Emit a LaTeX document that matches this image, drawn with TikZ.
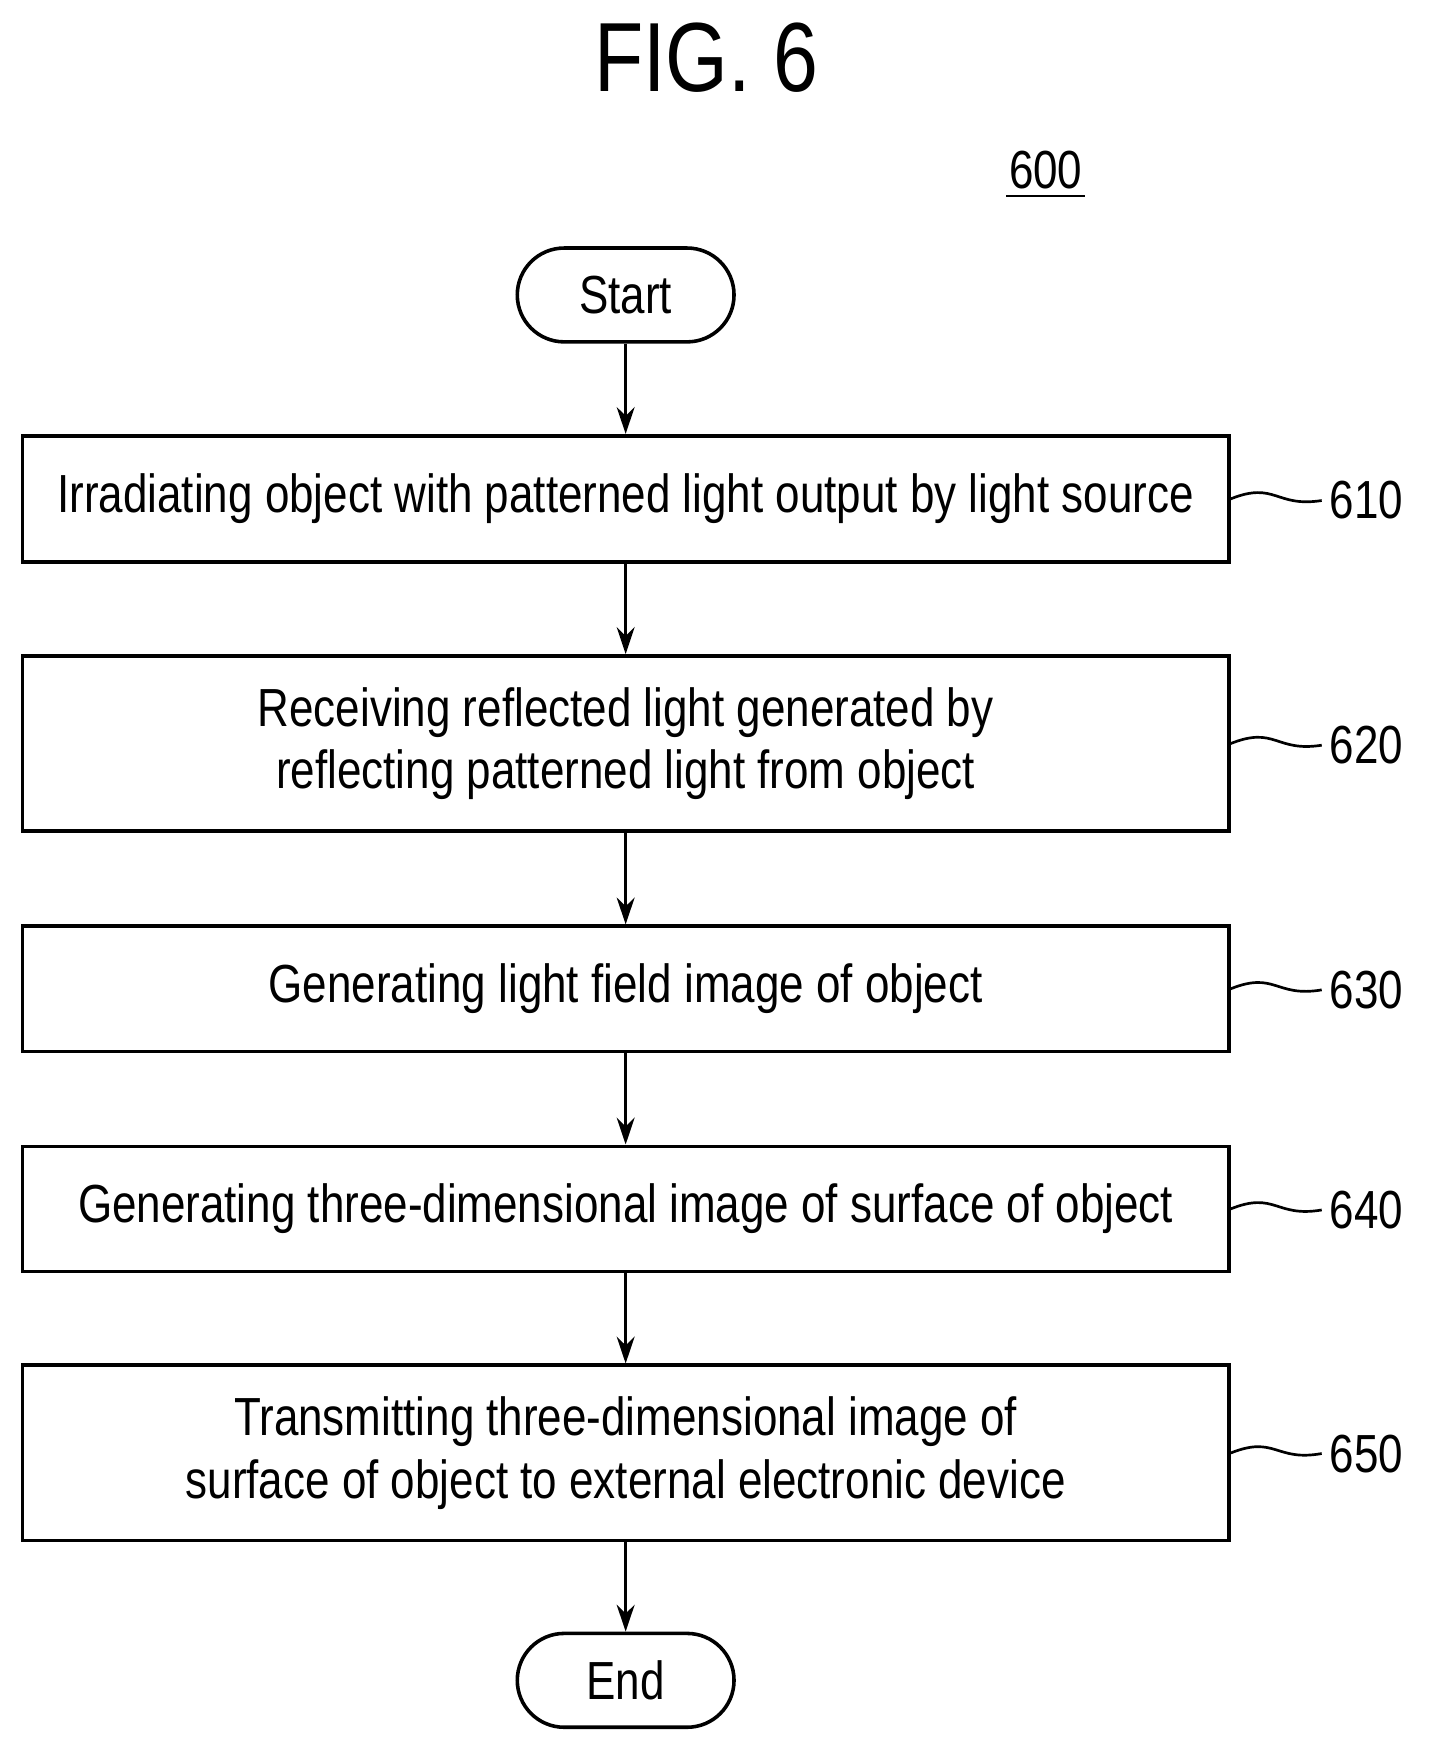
\documentclass[tikz,border=0pt]{standalone}
\usepackage{fontspec}
\usetikzlibrary{arrows.meta}
\setmainfont{Liberation Sans}[FakeStretch=0.82]
\begin{document}
\begin{tikzpicture}[x=0.5pt,y=-0.5pt,
 box/.style={draw,line width=1.6pt,minimum width=540pt,align=center,font=\fontsize{24}{28}\selectfont,inner sep=0pt},
 term/.style={draw,line width=1.6pt,rounded corners=21pt,minimum width=97pt,minimum height=42pt,font=\fontsize{24}{26}\selectfont},
 arr/.style={-{Stealth[length=12pt,width=8pt]},line width=1.4pt},
 lab/.style={font=\fontsize{24}{26}\selectfont},
 sq/.style={line width=1.2pt}]
\useasboundingbox (0,0) rectangle (1280,1578);
\node[font=\fontsize{44}{50}\selectfont] (t) at (632,52) {FIG. 6};
\node[lab,inner sep=1pt] (n600) at (936,152) {600};
\draw[line width=1.2pt] ([yshift=-2pt]n600.south west) -- ([yshift=-2pt]n600.south east);
\node[term] (s) at (560,264) {Start};
\node[box,minimum height=56.5pt] (b1) at (560,446.5) {Irradiating object with patterned light output by light source};
\node[box,minimum height=78.5pt] (b2) at (560,665.5) {Receiving reflected light generated by\\reflecting patterned light from object};
\node[box,minimum height=56pt] (b3) at (560,885) {Generating light field image of object};
\node[box,minimum height=56pt] (b4) at (560,1082) {Generating three-dimensional image of surface of object};
\node[box,minimum height=78.5pt] (b5) at (560,1300.5) {Transmitting three-dimensional image of\\surface of object to external electronic device};
\node[term] (e) at (560,1504) {End};
\draw[arr] (s) -- (b1);
\draw[arr] (b1) -- (b2);
\draw[arr] (b2) -- (b3);
\draw[arr] (b3) -- (b4);
\draw[arr] (b4) -- (b5);
\draw[arr] (b5) -- (e);
\foreach \b/\t/\y in {b1/610/448,b2/620/667,b3/630/886,b4/640/1083,b5/650/1301}{
 \node[lab,anchor=west] (l\t) at (1183,\y) {\t};
 \draw[sq] (\b.east) .. controls ([xshift=20pt,yshift=8pt]\b.east) and ([xshift=20pt,yshift=-4pt]\b.east) .. (l\t.west);
}
\end{tikzpicture}
\end{document}
